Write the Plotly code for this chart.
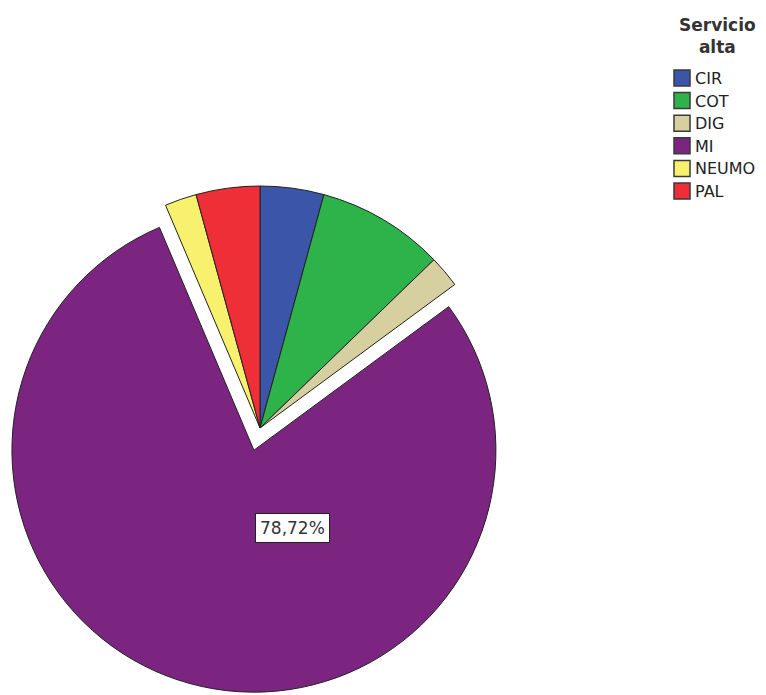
import math
import plotly.graph_objects as go

categories = ["CIR", "COT", "DIG", "MI", "NEUMO", "PAL"]
counts = [2, 4, 1, 37, 1, 2]
colors = ["#3B56A8", "#2DB34A", "#D6D0A0", "#7B2581", "#F8F16E", "#EE2F37"]
exploded = "MI"
legend_title = "Servicio<br>alta"

W, H = 766, 695
OFF = 8                     # page body margin seen in the screenshot
R = 242                     # pie radius (px)
CX, CY = 260 - OFF, 428 - OFF   # pie centre in figure px
PULL_PX = 23                # distance the exploded slice is pulled out
EDGE = "#222222"
TRANSPARENT = "rgba(0,0,0,0)"


def domain_for(cx, cy, r):
    return dict(x=[(cx - r) / W, (cx + r) / W],
                y=[1 - (cy + r) / H, 1 - (cy - r) / H])


total = sum(counts)
ex = categories.index(exploded)
start = sum(counts[:ex]) / total * 360.0
end = sum(counts[:ex + 1]) / total * 360.0
mid = math.radians((start + end) / 2)      # clockwise from 12 o'clock
dx, dy = PULL_PX * math.sin(mid), -PULL_PX * math.cos(mid)

common = dict(labels=categories, values=counts, sort=False,
              direction="clockwise", rotation=0, textinfo="none",
              hoverinfo="label+percent", showlegend=False)

fig = go.Figure()
# all slices except the exploded one, at the pie centre
fig.add_trace(go.Pie(
    **common,
    marker=dict(colors=[TRANSPARENT if c == exploded else col for c, col in zip(categories, colors)],
                line=dict(color=EDGE, width=[0 if c == exploded else 1 for c in categories])),
    domain=domain_for(CX, CY, R),
))
# the exploded slice, pulled out along its bisector
fig.add_trace(go.Pie(
    **common,
    marker=dict(colors=[col if c == exploded else TRANSPARENT for c, col in zip(categories, colors)],
                line=dict(color=EDGE, width=[1 if c == exploded else 0 for c in categories])),
    domain=domain_for(CX + dx, CY + dy, R),
))

# percentage label of the exploded slice
pct_text = f"{counts[ex] / total * 100:.2f}%".replace(".", ",")
fig.add_annotation(
    x=(254.5 - OFF) / W, y=1 - (542.5 - OFF) / H, xref="paper", yref="paper",
    text=pct_text, showarrow=False,
    font=dict(family="DejaVu Sans", size=17, color="#333333"),
    bgcolor="white", bordercolor="#222222", borderwidth=1, borderpad=4,
)

# legend (drawn manually to match the compact SPSS-style layout)
fig.add_annotation(
    x=(717 - OFF) / W, y=1 - (36 - OFF) / H, xref="paper", yref="paper",
    text=legend_title, showarrow=False, xanchor="center", yanchor="middle",
    align="center",
    font=dict(family="DejaVu Sans", size=17, color="#333333", weight="bold"),
)

sw_x0, sw_x1 = 674 - OFF, 690 - OFF
first_y, step, half = 78 - OFF, 22.6, 8
for i, (cat, col) in enumerate(zip(categories, colors)):
    yc = first_y + step * i
    fig.add_shape(type="rect", xref="paper", yref="paper",
                  x0=sw_x0 / W, x1=sw_x1 / W,
                  y0=1 - (yc + half) / H, y1=1 - (yc - half) / H,
                  fillcolor=col, line=dict(color="#3a3a3a", width=1.5))
    fig.add_annotation(
        x=(sw_x1 + 3) / W, y=1 - (yc + 0.5) / H, xref="paper", yref="paper",
        text=cat, showarrow=False, xanchor="left", yanchor="middle",
        font=dict(family="DejaVu Sans", size=16, color="#222222"),
    )

fig.update_layout(
    width=W, height=H,
    margin=dict(l=0, r=0, t=0, b=0),
    paper_bgcolor="white",
    plot_bgcolor="white",
    showlegend=False,
)

fig.write_html("out.html")
